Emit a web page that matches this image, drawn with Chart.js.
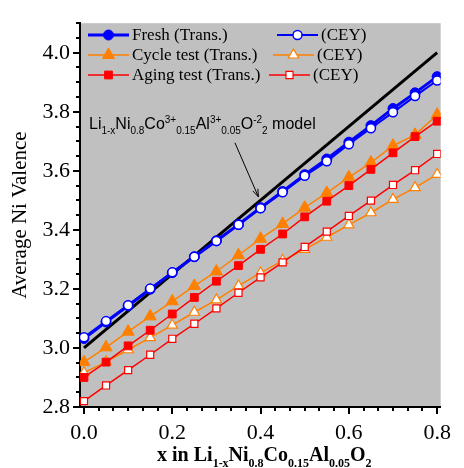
<!DOCTYPE html>
<html>
<head>
<meta charset="utf-8">
<script src="https://cdn.jsdelivr.net/npm/chart.js@4"></script>
<style>
  html, body { margin: 0; padding: 0; background: #ffffff; }
  #wrap { width: 464px; height: 468px; }
</style>
</head>
<body>
<div id="wrap"><canvas id="valenceChart" width="464" height="468"></canvas></div>
<script>
// x in Li(1-x)Ni0.8Co0.15Al0.05O2
const xValues = [0, 0.05, 0.1, 0.15, 0.2, 0.25, 0.3, 0.35, 0.4, 0.45, 0.5, 0.55, 0.6, 0.65, 0.7, 0.75, 0.8];

const freshTrans = [3.032, 3.088, 3.143, 3.199, 3.255, 3.309, 3.363, 3.418, 3.475, 3.530, 3.587, 3.640, 3.697, 3.753, 3.811, 3.864, 3.919];
const freshCEY   = [3.036, 3.091, 3.145, 3.201, 3.256, 3.309, 3.362, 3.417, 3.473, 3.527, 3.583, 3.632, 3.690, 3.744, 3.798, 3.853, 3.906];
const cycleTrans = [2.952, 3.002, 3.055, 3.107, 3.158, 3.210, 3.259, 3.314, 3.370, 3.420, 3.475, 3.525, 3.578, 3.628, 3.685, 3.722, 3.790];
const cycleCEY   = [2.916, 2.953, 2.994, 3.035, 3.077, 3.121, 3.163, 3.210, 3.254, 3.296, 3.334, 3.375, 3.417, 3.458, 3.503, 3.543, 3.588];
const agingTrans = [2.900, 2.952, 3.007, 3.060, 3.115, 3.171, 3.226, 3.279, 3.334, 3.386, 3.444, 3.497, 3.550, 3.605, 3.661, 3.716, 3.768];
const agingCEY   = [2.820, 2.873, 2.925, 2.977, 3.031, 3.082, 3.134, 3.187, 3.239, 3.290, 3.342, 3.394, 3.447, 3.499, 3.552, 3.602, 3.657];

// model line: Ni valence for Co3+/Al3+ fixed
const modelX = [0, 0.8];
const modelY = [3.0, 4.0];

const xTicks = [0, 0.2, 0.4, 0.6, 0.8];
const yTicks = [2.8, 3.0, 3.2, 3.4, 3.6, 3.8, 4.0];

const BLUE = "#0000ff";
const ORANGE = "#ff8000";
const RED = "#ff0000";
const SERIF = "'Liberation Serif', 'Times New Roman', serif";
const SANS = "'Liberation Sans', Arial, sans-serif";

function pts(xs, ys) {
  return xs.map((x, i) => ({ x: x, y: ys[i] }));
}

// draws text runs with sub/superscripts, returns end x
function drawRich(ctx, parts, x, y, size, family, weight) {
  const small = Math.round(size * 0.62);
  parts.forEach((p) => {
    const s = p[1] ? small : size;
    const dy = p[1] === "sub" ? size * 0.3 : p[1] === "sup" ? -size * 0.4 : 0;
    ctx.font = weight + " " + s + "px " + family;
    ctx.fillText(p[0], x, y + dy);
    x += ctx.measureText(p[0]).width;
  });
  return x;
}

function richWidth(ctx, parts, size, family, weight) {
  const small = Math.round(size * 0.62);
  let w = 0;
  parts.forEach((p) => {
    ctx.font = weight + " " + (p[1] ? small : size) + "px " + family;
    w += ctx.measureText(p[0]).width;
  });
  return w;
}

function drawMarker(ctx, style, x, y, r) {
  if (style === "circle") {
    ctx.arc(x, y, r, 0, Math.PI * 2);
  } else if (style === "triangle") {
    ctx.moveTo(x, y - r);
    ctx.lineTo(x - r * 0.866, y + r * 0.5);
    ctx.lineTo(x + r * 0.866, y + r * 0.5);
    ctx.closePath();
  } else {
    const s = r / Math.SQRT2;
    ctx.rect(x - s, y - s, 2 * s, 2 * s);
  }
}

const plotBackground = {
  id: "plotBackground",
  beforeDraw(chart) {
    const { ctx, chartArea: a } = chart;
    ctx.save();
    ctx.fillStyle = "#c0c0c0";
    ctx.fillRect(a.left, a.top, a.right - a.left, a.bottom - a.top);
    ctx.restore();
  },
};

const axisDecor = {
  id: "axisDecor",
  afterDraw(chart) {
    const { ctx, chartArea: a, scales } = chart;
    const xs = scales.x;
    const ys = scales.y;
    ctx.save();
    ctx.strokeStyle = "#000";
    ctx.lineWidth = 2;
    ctx.beginPath();
    // y ticks, major every 0.2, minor every 0.05
    for (let v = 2.8; v <= 4.1 + 1e-9; v += 0.05) {
      const py = Math.round(ys.getPixelForValue(v));
      const major = Math.abs(Math.round(v / 0.2) * 0.2 - v) < 1e-6;
      ctx.moveTo(a.left, py);
      ctx.lineTo(a.left - (major ? 7 : 4), py);
    }
    // x ticks, major every 0.2, minor every 0.2/6
    for (let k = 0; k <= 24; k++) {
      const v = k * 0.2 / 6;
      const px = Math.round(xs.getPixelForValue(v));
      const major = k % 6 === 0;
      ctx.moveTo(px, a.bottom);
      ctx.lineTo(px, a.bottom + (major ? 7 : 4));
    }
    ctx.stroke();

    ctx.fillStyle = "#000";
    ctx.textBaseline = "alphabetic";

    // x axis title
    const xt = [["x in Li"], ["1-x", "sub"], ["Ni"], ["0.8", "sub"], ["Co"], ["0.15", "sub"], ["Al"], ["0.05", "sub"], ["O"], ["2", "sub"]];
    const w = richWidth(ctx, xt, 20, SERIF, "bold");
    drawRich(ctx, xt, (a.left + a.right) / 2 - w / 2 + 4, 461, 20, SERIF, "bold");

    // y axis title
    ctx.save();
    ctx.translate(26, (a.top + a.bottom) / 2);
    ctx.rotate(-Math.PI / 2);
    ctx.font = "21px " + SERIF;
    ctx.textAlign = "center";
    ctx.fillText("Average Ni Valence", 0, 0);
    ctx.restore();

    // model annotation + arrow
    const mt = [["Li"], ["1-x", "sub"], ["Ni"], ["0.8", "sub"], ["Co"], ["3+", "sup"], ["0.15", "sub"], ["Al"], ["3+", "sup"], ["0.05", "sub"], ["O"], ["-2", "sup"], ["2", "sub"], [" model"]];
    drawRich(ctx, mt, a.left + 9, 129, 16, SANS, "normal");

    const x1 = xs.getPixelForValue(0.342), y1 = ys.getPixelForValue(3.695);
    const x2 = xs.getPixelForValue(0.395), y2 = ys.getPixelForValue(3.512);
    ctx.lineWidth = 1;
    ctx.beginPath();
    ctx.moveTo(x1, y1);
    ctx.lineTo(x2, y2);
    ctx.stroke();
    const ang = Math.atan2(y2 - y1, x2 - x1);
    ctx.beginPath();
    ctx.moveTo(x2, y2);
    ctx.lineTo(x2 - 8 * Math.cos(ang - 0.35), y2 - 8 * Math.sin(ang - 0.35));
    ctx.moveTo(x2, y2);
    ctx.lineTo(x2 - 8 * Math.cos(ang + 0.35), y2 - 8 * Math.sin(ang + 0.35));
    ctx.stroke();

    // legend, two columns per row (Trans. / CEY)
    const ds = chart.data.datasets;
    const rows = [
      { y: 35, c2: 277, items: [ds[1], ds[0]] },
      { y: 55, c2: 273, items: [ds[5], ds[4]] },
      { y: 75, c2: 269, items: [ds[2], ds[3]] },
    ];
    rows.forEach((r) => {
      [88, r.c2].forEach((lx, j) => {
        const d = r.items[j];
        ctx.strokeStyle = d.borderColor;
        ctx.lineWidth = d.borderWidth;
        ctx.beginPath();
        ctx.moveTo(lx, r.y);
        ctx.lineTo(lx + 41, r.y);
        ctx.stroke();
        ctx.fillStyle = d.pointBackgroundColor;
        ctx.strokeStyle = d.pointBorderColor;
        ctx.lineWidth = d.pointBorderWidth;
        ctx.beginPath();
        drawMarker(ctx, d.pointStyle, lx + 20.5, r.y, d.pointRadius);
        ctx.fill();
        ctx.stroke();
        ctx.fillStyle = "#000";
        ctx.font = "17px " + SERIF;
        ctx.textBaseline = "middle";
        ctx.fillText(d.label, lx + 44, r.y + 1);
      });
    });
    ctx.restore();
  },
};

function initializeValenceChart() {
  const ctx = document.getElementById("valenceChart");
  if (!ctx) return;

  new Chart(ctx, {
    type: "line",
    data: {
      datasets: [
        {
          label: "(CEY)",
          data: pts(xValues, freshCEY),
          borderColor: BLUE,
          borderWidth: 2,
          pointStyle: "circle",
          pointRadius: 4.5,
          pointBackgroundColor: "#ffffff",
          pointBorderColor: BLUE,
          pointBorderWidth: 1.5,
        },
        {
          label: "Fresh (Trans.)",
          data: pts(xValues, freshTrans),
          borderColor: BLUE,
          borderWidth: 3,
          pointStyle: "circle",
          pointRadius: 5,
          pointBackgroundColor: BLUE,
          pointBorderColor: BLUE,
          pointBorderWidth: 1,
        },
        {
          label: "Aging test (Trans.)",
          data: pts(xValues, agingTrans),
          borderColor: RED,
          borderWidth: 1.5,
          pointStyle: "rect",
          pointRadius: 5.5,
          pointBackgroundColor: RED,
          pointBorderColor: RED,
          pointBorderWidth: 1,
        },
        {
          label: "(CEY)",
          data: pts(xValues, agingCEY),
          borderColor: RED,
          borderWidth: 1.5,
          pointStyle: "rect",
          pointRadius: 5,
          pointBackgroundColor: "#ffffff",
          pointBorderColor: RED,
          pointBorderWidth: 1.2,
        },
        {
          label: "(CEY)",
          data: pts(xValues, cycleCEY),
          borderColor: ORANGE,
          borderWidth: 1.5,
          pointStyle: "triangle",
          pointRadius: 6,
          pointBackgroundColor: "#ffffff",
          pointBorderColor: ORANGE,
          pointBorderWidth: 1.2,
        },
        {
          label: "Cycle test (Trans.)",
          data: pts(xValues, cycleTrans),
          borderColor: ORANGE,
          borderWidth: 1.5,
          pointStyle: "triangle",
          pointRadius: 7,
          pointBackgroundColor: ORANGE,
          pointBorderColor: ORANGE,
          pointBorderWidth: 1,
        },
        {
          label: "model",
          data: pts(modelX, modelY),
          borderColor: "#000000",
          borderWidth: 3,
          pointRadius: 0,
        },
      ],
    },
    options: {
      responsive: false,
      animation: false,
      devicePixelRatio: 1,
      layout: {
        padding: { top: 14, right: 11, left: 0, bottom: 0 },
      },
      plugins: {
        legend: { display: false },
        tooltip: { enabled: false },
      },
      elements: {
        line: { tension: 0 },
      },
      scales: {
        x: {
          type: "linear",
          min: -0.009,
          max: 0.808,
          afterFit: function (scale) {
            scale.height = 61;
          },
          afterBuildTicks: function (scale) {
            scale.ticks = xTicks.map((v) => ({ value: v }));
          },
          ticks: {
            padding: 13,
            color: "#000",
            font: { family: SERIF, size: 22 },
            maxRotation: 0,
            callback: function (value) {
              return value.toFixed(1);
            },
          },
          grid: { display: false, drawTicks: false },
          border: { display: true, color: "#000", width: 2 },
        },
        y: {
          min: 2.8,
          max: 4.1,
          afterFit: function (scale) {
            scale.width = 80;
          },
          afterBuildTicks: function (scale) {
            scale.ticks = yTicks.map((v) => ({ value: v }));
          },
          ticks: {
            padding: 10,
            color: "#000",
            font: { family: SERIF, size: 22 },
            callback: function (value) {
              return value.toFixed(1);
            },
          },
          grid: { display: false, drawTicks: false },
          border: { display: true, color: "#000", width: 2 },
        },
      },
    },
    plugins: [plotBackground, axisDecor],
  });
}

document.addEventListener("DOMContentLoaded", function () {
  initializeValenceChart();
});
</script>
</body>
</html>
